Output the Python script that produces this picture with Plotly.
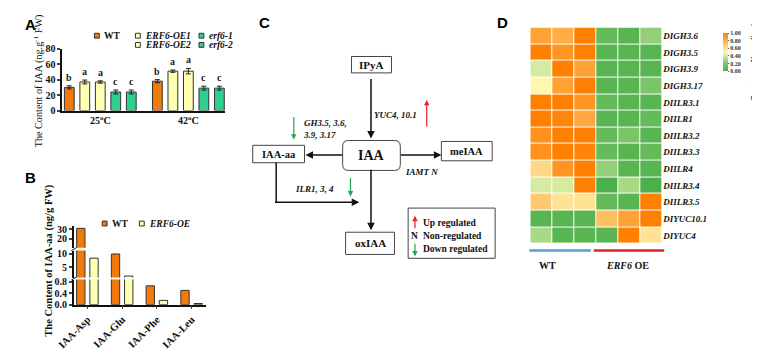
import plotly.graph_objects as go

# The page places the figure 8 px in from the top-left corner (default body margin),
# so the figure is sized and positioned to land on the 760x357 window.
OFF = 8
W, H = 760 - OFF, 357 - OFF
def X(px): return (px - OFF) / W
def Y(py): return 1 - (py - OFF) / H

SERIF = "Liberation Serif, Times New Roman, serif"
SANS = "Liberation Sans, Arial, sans-serif"
ORANGE = "#F27A0C"
YELLOW = "#FFFFB2"
GREEN = "#2DD08C"
EDGE = "#333333"

# ---------------- Panel A data ----------------
temps = ["25<sup>o</sup>C", "42<sup>o</sup>C"]
genotypes = ["WT", "ERF6-OE1", "ERF6-OE2", "erf6-1", "erf6-2"]
wt_iaa = [30, 38]
oe1_iaa = [37, 51]
oe2_iaa = [37, 51]
erf1_iaa = [24, 29]
erf2_iaa = [24, 29]
wt_err = [2, 2]
oe1_err = [2.5, 1.5]
oe2_err = [1.5, 3.5]
erf1_err = [2.5, 2.5]
erf2_err = [2.5, 2.5]
letters_25 = ["b", "a", "a", "c", "c"]
letters_42 = ["b", "a", "a", "c", "c"]

# ---------------- Panel B data ----------------
conjugates = ["IAA-Asp", "IAA-Glu", "IAA-Phe", "IAA-Leu"]
wt_aa = [31, 10, 0.66, 0.5]
oe_aa = [8.4, 1.6, 0.15, 0.04]

# ---------------- Panel D data ----------------
genes = ["DIGH3.6", "DIGH3.5", "DIGH3.9", "DIGH3.17", "DIILR3.1", "DIILR1",
         "DIILR3.2", "DIILR3.3", "DIILR4", "DIILR3.4", "DIILR3.5",
         "DIYUC10.1", "DIYUC4"]
samples = ["WT1", "WT2", "WT3", "OE1", "OE2", "OE3"]
heat = [
    [0.85, 0.80, 1.00, 0.10, 0.05, 0.25],
    [1.00, 0.90, 1.00, 0.05, 0.05, 0.05],
    [0.40, 1.00, 0.85, 0.05, 0.05, 0.05],
    [0.50, 0.85, 1.00, 0.05, 0.05, 0.20],
    [1.00, 1.00, 0.90, 0.10, 0.05, 0.05],
    [1.00, 0.97, 0.82, 0.05, 0.05, 0.10],
    [0.92, 1.00, 1.00, 0.10, 0.20, 0.05],
    [0.92, 1.00, 0.98, 0.10, 0.05, 0.10],
    [0.62, 0.90, 1.00, 0.25, 0.05, 0.05],
    [0.40, 0.40, 1.00, 0.00, 0.30, 0.00],
    [0.68, 0.58, 0.58, 0.10, 0.05, 1.00],
    [0.05, 0.05, 0.05, 0.72, 0.85, 1.00],
    [0.30, 0.05, 0.05, 0.05, 1.00, 0.58],
]
cbar_ticks = [0, 0.2, 0.4, 0.6, 0.8, 1.0]

fig = go.Figure()

# ---------- Panel A bars ----------
a_series = [wt_iaa, oe1_iaa, oe2_iaa, erf1_iaa, erf2_iaa]
a_errs = [wt_err, oe1_err, oe2_err, erf1_err, erf2_err]
a_cols = [ORANGE, YELLOW, YELLOW, GREEN, GREEN]
step, bw = 0.176, 0.111
for i, (name, vals, errs, col) in enumerate(zip(genotypes, a_series, a_errs, a_cols)):
    fig.add_trace(go.Bar(
        x=temps, y=vals, name=name, xaxis="x", yaxis="y",
        width=bw, offset=(i - 2) * step - bw / 2,
        marker=dict(color=col, line=dict(color=EDGE, width=1)),
        error_y=dict(type="data", array=errs, color="#222", thickness=1, width=2.5),
        showlegend=False, hoverinfo="skip"))

annotations = []
for ci, letters in enumerate([letters_25, letters_42]):
    for i, lt in enumerate(letters):
        v = a_series[i][ci] + a_errs[i][ci]
        annotations.append(dict(
            x=ci + (i - 2) * step, y=v, xref="x", yref="y", text=f"<b>{lt}</b>",
            showarrow=False, yanchor="bottom", yshift=1,
            font=dict(family=SERIF, size=10, color="#222")))

# ---------- Panel B bars (broken axis: y2 bottom, y3 middle, y4 top) ----------
bbw = 0.24
for yax in ["y2", "y3", "y4"]:
    fig.add_trace(go.Bar(
        x=conjugates, y=wt_aa, xaxis="x2", yaxis=yax, width=bbw, offset=-0.31,
        marker=dict(color=ORANGE, line=dict(color=EDGE, width=1)),
        showlegend=False, hoverinfo="skip"))
    fig.add_trace(go.Bar(
        x=conjugates, y=oe_aa, xaxis="x2", yaxis=yax, width=bbw, offset=0.07,
        marker=dict(color=YELLOW, line=dict(color=EDGE, width=1)),
        showlegend=False, hoverinfo="skip"))

# ---------- Panel D heatmap ----------
fig.add_trace(go.Heatmap(
    z=heat, x=samples, y=genes, xaxis="x3", yaxis="y5",
    zmin=0, zmax=1, xgap=1, ygap=1,
    colorscale=[[0, "#4DAF4A"], [0.2, "#7CC46A"], [0.4, "#D6EBA2"],
                [0.5, "#FFF6B0"], [0.7, "#FFC46A"], [1, "#FF7F00"]],
    colorbar=dict(x=X(722), xanchor="left", y=Y(47.5), yanchor="middle",
                  xpad=0, ypad=0,
                  len=39 / H, lenmode="fraction", thickness=5,
                  outlinewidth=0, ticks="outside", ticklen=1.5, tickcolor="#555",
                  tickvals=cbar_ticks, ticktext=[f"{t:.2f}" for t in cbar_ticks],
                  tickfont=dict(family=SERIF, size=6, color="#333", weight="bold")),
    hoverinfo="skip"))

axis_common = dict(showline=True, linecolor="#111", linewidth=1.5, zeroline=False,
                   showgrid=False, fixedrange=True)
tickf = dict(family=SERIF, size=10, color="#111", weight="bold")

fig.update_layout(
    width=W, height=H, margin=dict(l=0, r=0, t=0, b=0),
    paper_bgcolor="white", plot_bgcolor="rgba(0,0,0,0)",
    barmode="overlay", showlegend=False,
    xaxis=dict(domain=[X(46), X(213)], anchor="y", type="category",
               range=[-0.433, 1.42], ticks="", tickfont=tickf, **axis_common),
    yaxis=dict(domain=[Y(108), Y(44)], anchor="x", range=[0, 80], dtick=20,
               ticks="outside", ticklen=3, tickwidth=1.5, tickfont=tickf, **axis_common),
    xaxis2=dict(domain=[X(58), X(193)], anchor="y2", type="category",
                range=[-0.39, 3.41], ticks="outside", ticklen=3, tickwidth=1.2,
                tickangle=-45, tickfont=dict(family=SERIF, size=10.5, color="#111", weight="bold"),
                **axis_common),
    yaxis2=dict(domain=[Y(309), Y(283)], anchor="x2", range=[0, 0.88],
                tickvals=[0, 0.4, 0.8], ticktext=["0.0", "0.4", "0.8"],
                ticks="outside", ticklen=3, tickwidth=1.5, tickfont=tickf, **axis_common),
    yaxis3=dict(domain=[Y(281), Y(253)], anchor="x2", range=[1, 11.3],
                tickvals=[5, 10], ticks="outside", ticklen=3, tickwidth=1.5,
                tickfont=tickf, **axis_common),
    yaxis4=dict(domain=[Y(250), Y(228)], anchor="x2", range=[11, 33],
                tickvals=[20, 30], ticks="outside", ticklen=3, tickwidth=1.5,
                tickfont=tickf, **axis_common),
    xaxis3=dict(domain=[X(525), X(660)], anchor="y5", showticklabels=False,
                tickvals=[], ticks="", showline=False, showgrid=False, zeroline=False,
                fixedrange=True),
    yaxis5=dict(domain=[Y(246), Y(22)], anchor="x3", side="right", autorange="reversed",
                ticks="", showline=False, showgrid=False, zeroline=False, fixedrange=True,
                tickfont=dict(family=SERIF, size=9, color="#111", weight="bold", style="italic")),
)

shapes = []

def txt(x, y, text, size=10, family=SERIF, xanchor="center", yanchor="middle",
        color="#111", angle=0, align="center"):
    annotations.append(dict(x=X(x), y=Y(y), xref="paper", yref="paper", text=text,
                            showarrow=False, xanchor=xanchor, yanchor=yanchor,
                            textangle=angle, align=align, borderpad=0,
                            font=dict(family=family, size=size, color=color)))

def rect(x0, y0, x1, y1, fill="rgba(0,0,0,0)", line="#444", lw=1):
    shapes.append(dict(type="rect", xref="paper", yref="paper",
                       x0=X(x0), x1=X(x1), y0=Y(y1), y1=Y(y0),
                       fillcolor=fill, line=dict(color=line, width=lw)))

def line(x0, y0, x1, y1, color="#111", lw=1.5):
    shapes.append(dict(type="line", xref="paper", yref="paper",
                       x0=X(x0), x1=X(x1), y0=Y(y0), y1=Y(y1),
                       line=dict(color=color, width=lw)))

def arrow(tx, ty, hx, hy, color="#111", lw=1.5, size=1.0):
    annotations.append(dict(x=X(hx), y=Y(hy), xref="paper", yref="paper",
                            ax=tx - hx, ay=ty - hy, axref="pixel", ayref="pixel",
                            text="", showarrow=True, arrowhead=2, arrowsize=size,
                            arrowwidth=lw, arrowcolor=color, standoff=0, startstandoff=0))

# panel letters
for lab, x, y in [("A", 14, 19), ("B", 14, 177), ("C", 253, 17), ("D", 497, 17)]:
    txt(x, y, f"<b>{lab}</b>", size=15, family=SANS, color="#000")

# Panel A legend
rect(79, 28, 84, 33, fill=ORANGE, line=EDGE)
txt(88, 30.5, "<b>WT</b>", size=9.5, xanchor="left")
rect(121, 28, 126, 33, fill=YELLOW, line=EDGE)
txt(130, 30.5, "<b><i>ERF6-OE1</i></b>", size=9.5, xanchor="left")
rect(121, 37.5, 126, 42.5, fill=YELLOW, line=EDGE)
txt(130, 40, "<b><i>ERF6-OE2</i></b>", size=9.5, xanchor="left")
rect(186, 28, 191, 33, fill=GREEN, line=EDGE)
txt(195, 30.5, "<b><i>erf6-1</i></b>", size=9.5, xanchor="left")
rect(186, 37.5, 191, 42.5, fill=GREEN, line=EDGE)
txt(195, 40, "<b><i>erf6-2</i></b>", size=9.5, xanchor="left")
txt(22, 77, "The Content of IAA (ng.g<sup>-1</sup> FW)", size=10.2, angle=-90)

# Panel B legend / title / break marks
rect(87, 222.5, 92, 227.5, fill=ORANGE, line=EDGE)
txt(96, 225, "<b>WT</b>", size=9.5, xanchor="left")
rect(125, 222.5, 130, 227.5, fill=YELLOW, line=EDGE)
txt(134, 225, "<b><i>ERF6-OE</i></b>", size=9.5, xanchor="left")
txt(33, 263, "<b>The Content of IAA-aa (ng/g FW)</b>", size=10.5, angle=-90)
for yb in [251.5, 282]:
    line(55.5, yb + 1.5, 60.5, yb - 1.5, lw=1)

# Panel C diagram
rect(342, 52, 383, 69)
txt(362.5, 60.5, "<b>IPyA</b>", size=11)
x0, x1, yt, yb, rx, ry = X(333), X(392), Y(139), Y(170), 6 / W, 6 / H
path = (f"M {x0+rx},{yt} L {x1-rx},{yt} Q {x1},{yt} {x1},{yt-ry} L {x1},{yb+ry} "
        f"Q {x1},{yb} {x1-rx},{yb} L {x0+rx},{yb} Q {x0},{yb} {x0},{yb+ry} "
        f"L {x0},{yt-ry} Q {x0},{yt} {x0+rx},{yt} Z")
shapes.append(dict(type="path", path=path, xref="paper", yref="paper",
                   line=dict(color="#444", width=1)))
txt(362.5, 155, "<b>IAA</b>", size=14)
rect(241, 144, 294, 162)
txt(267.5, 153, "<b>IAA-aa</b>", size=10.5)
rect(434, 140, 486, 160)
txt(460, 150, "<b>meIAA</b>", size=10.5)
rect(336, 234, 386, 257)
txt(361, 245.5, "<b>oxIAA</b>", size=11)

arrow(362, 76, 362, 137)
arrow(333, 154, 295, 154)
arrow(392, 154, 434, 154)
arrow(362, 170, 362, 232)
line(265, 162, 265, 203)
arrow(264.3, 203, 350, 203)

arrow(419, 125, 419, 97, color="#E8202A", lw=1.2, size=0.9)
arrow(283, 114, 283, 138, color="#1FA84F", lw=1.2, size=0.9)
arrow(341, 177, 341, 197, color="#1FA84F", lw=1.2, size=0.9)
txt(364, 113, "<b><i>YUC4, 10.1</i></b>", size=9, xanchor="left")
txt(291, 127, "<b><i>GH3.5, 3.6,<br>3.9, 3.17</i></b>", size=9, xanchor="left", align="left")
txt(396, 172, "<b><i>IAMT N</i></b>", size=9, xanchor="left")
txt(283, 189, "<b><i>ILR1, 3, 4</i></b>", size=9, xanchor="left")

rect(400, 209, 489, 261)
arrow(407, 231, 407, 217, color="#E8202A", lw=1.2, size=0.9)
txt(407, 238, "<b>N</b>", size=9.5)
arrow(407, 245, 407, 259, color="#1FA84F", lw=1.2, size=0.9)
txt(414, 224, "<b>Up regulated</b>", size=9.5, xanchor="left")
txt(414, 238, "<b>Non-regulated</b>", size=9.5, xanchor="left")
txt(414, 251, "<b>Down regulated</b>", size=9.5, xanchor="left")

# Panel D extras
txt(754, 54, "<b>Zero to one Normalization</b>", size=7.5, angle=-90)
line(524, 253, 587, 253, color="#5B9BD5", lw=2.5)
line(590, 253, 662, 253, color="#E02424", lw=2.5)
txt(543, 268, "<b>WT</b>", size=10)
txt(624, 268, "<b><i>ERF6</i> OE</b>", size=10)

fig.update_layout(annotations=annotations, shapes=shapes)
fig.write_html("out.html")
